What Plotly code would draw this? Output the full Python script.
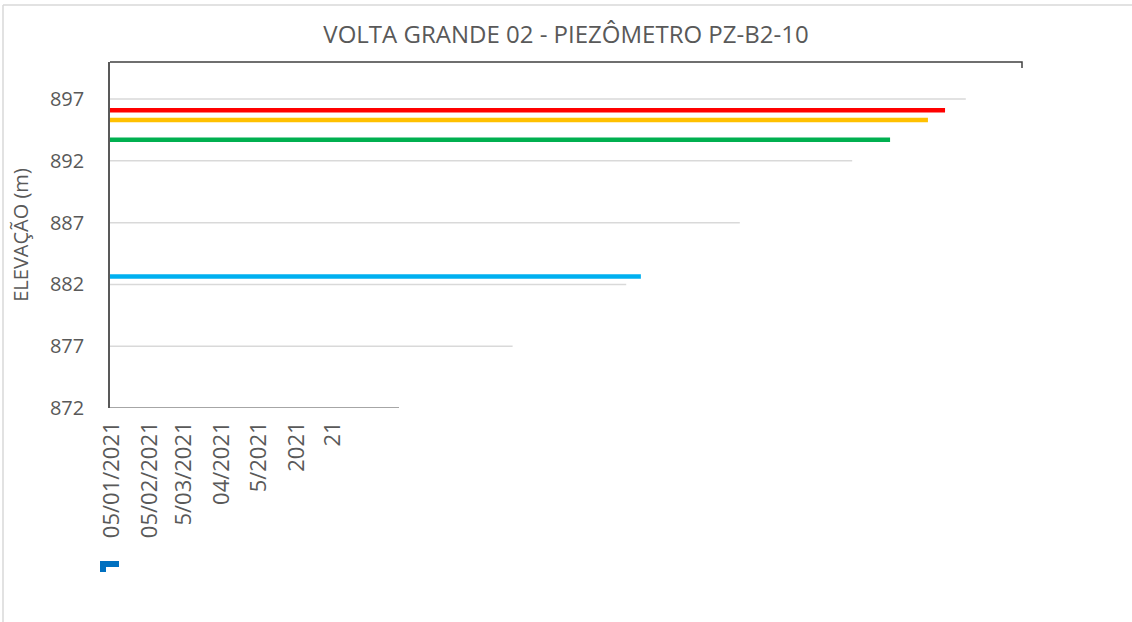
import plotly.graph_objects as go

# ---- data ----
title_text = "VOLTA GRANDE 02 - PIEZÔMETRO PZ-B2-10"
y_title = "ELEVAÇÃO (m)"

x_start = "2021-01-03 10:00"
x_end = "2023-01-20"

tick_dates = ["2021-01-05", "2021-02-05", "2021-03-05", "2021-04-05",
              "2021-05-05", "2021-06-05", "2021-07-05"]
tick_labels = ["05/01/2021", "05/02/2021", "5/03/2021", "04/2021",
               "5/2021", "2021", "21"]

y_ticks = [872, 877, 882, 887, 892, 897]
grid_levels = [897, 892, 887, 882, 877]
grid_ends = ["2022-12-05", "2022-09-03", "2022-06-03", "2022-03-02", "2021-11-29"]
base_level = 872
base_end = "2021-08-28"

series_names = ["Emergência", "Alerta", "Atenção", "Nível"]
series_levels = [896.1, 895.3, 893.7, 882.65]
series_ends = ["2022-11-18", "2022-11-04", "2022-10-04", "2022-03-14"]
series_colors = ["#FF0000", "#FFC000", "#00B050", "#00B0F0"]

# ---- figure ----
fig = go.Figure()

for lvl, end in zip(grid_levels, grid_ends):
    fig.add_trace(go.Scatter(x=[x_start, end], y=[lvl, lvl], mode="lines",
                             line=dict(color="#D9D9D9", width=1.5),
                             hoverinfo="skip", showlegend=False))

fig.add_trace(go.Scatter(x=[x_start, base_end], y=[base_level, base_level], mode="lines",
                         line=dict(color="#A6A6A6", width=2),
                         hoverinfo="skip", showlegend=False, cliponaxis=False))

for name, lvl, end, col in zip(series_names, series_levels, series_ends, series_colors):
    fig.add_trace(go.Scatter(x=[x_start, end], y=[lvl, lvl], mode="lines", name=name,
                             line=dict(color=col, width=4.5), showlegend=False))

W, H = 1132, 622
L, R, T, B = 110, 1022, 62, 408
pw, ph = R - L, B - T

def px(xp):
    return (xp - L) / pw

def py(yp):
    return (B - yp) / ph

shapes = [
    # top border with small tick at right
    dict(type="path", xref="paper", yref="paper",
         path=f"M {px(110)},{py(62)} L {px(1022)},{py(62)} L {px(1022)},{py(68)}",
         line=dict(color="#404040", width=1.5)),
    # outer frame (top and left)
    dict(type="line", xref="paper", yref="paper", x0=px(3), x1=px(1132), y0=py(5), y1=py(5),
         line=dict(color="#D9D9D9", width=1.5)),
    dict(type="line", xref="paper", yref="paper", x0=px(3), x1=px(3), y0=py(5), y1=py(622),
         line=dict(color="#D9D9D9", width=1.5)),
    # clipped legend glyph
    dict(type="rect", xref="paper", yref="paper", x0=px(100), x1=px(119), y0=py(567), y1=py(561),
         fillcolor="#0070C0", line=dict(width=0), layer="above"),
    dict(type="rect", xref="paper", yref="paper", x0=px(100), x1=px(106), y0=py(572), y1=py(567),
         fillcolor="#0070C0", line=dict(width=0), layer="above"),
]

fig.update_layout(
    width=W, height=H,
    margin=dict(l=L, r=W - R, t=T, b=H - B, autoexpand=False),
    paper_bgcolor="white", plot_bgcolor="white",
    font=dict(family="Open Sans", color="#595959", size=20),
    title=dict(text=title_text, x=0.5, xanchor="center", xref="container",
               y=1 - 35 / H, yanchor="middle", yref="container",
               font=dict(family="Open Sans", size=24, color="#595959")),
    showlegend=False,
    shapes=shapes,
)

fig.update_xaxes(type="date", range=[x_start, x_end], tickvals=tick_dates, ticktext=tick_labels,
                 tickangle=-90, showgrid=False, zeroline=False, showline=False,
                 ticks="", ticklabelstandoff=8, tickfont=dict(size=22, color="#595959"))
fig.update_yaxes(range=[872, 900], tickvals=y_ticks, showgrid=False, zeroline=False,
                 showline=True, linecolor="#595959", linewidth=1.5, ticks="",
                 ticklabelstandoff=20, tickfont=dict(size=20, color="#595959"),
                 title=dict(text=y_title, standoff=16, font=dict(size=20, color="#595959")))

fig.write_html("out.html", config={"displayModeBar": False},
               post_script="document.body.style.margin='0';")
